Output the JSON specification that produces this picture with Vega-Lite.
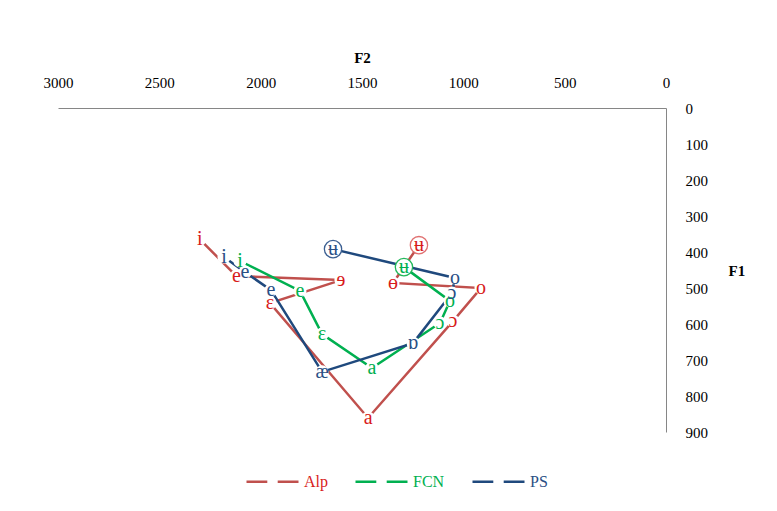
{
  "$schema": "https://vega.github.io/schema/vega-lite/v6.json",
  "autosize": {"type": "none"},
  "width": 608,
  "height": 324,
  "padding": {"left": 58, "top": 108, "right": 111, "bottom": 79},
  "background": "white",
  "config": {"view": {"stroke": null}},
  "data": {
    "values": [
      {"s": "Alp", "v": "i", "f2": 2300, "f1": 365, "ord": 1},
      {"s": "Alp", "v": "e", "f2": 2120, "f1": 467, "ord": 2},
      {"s": "Alp", "v": "ɘ", "f2": 1604, "f1": 478, "ord": 3},
      {"s": "Alp", "v": "ɛ", "f2": 1954, "f1": 542, "ord": 4},
      {"s": "Alp", "v": "a", "f2": 1470, "f1": 861, "ord": 5},
      {"s": "Alp", "v": "ɔ", "f2": 1051, "f1": 592, "ord": 6},
      {"s": "Alp", "v": "o", "f2": 913, "f1": 500, "ord": 7},
      {"s": "Alp", "v": "ɵ", "f2": 1347, "f1": 486, "ord": 8},
      {"s": "Alp", "v": "ʉ", "f2": 1219, "f1": 381, "ord": 9},
      {"s": "FCN", "v": "i", "f2": 2102, "f1": 425, "ord": 1},
      {"s": "FCN", "v": "e", "f2": 1806, "f1": 508, "ord": 2},
      {"s": "FCN", "v": "ɛ", "f2": 1697, "f1": 628, "ord": 3},
      {"s": "FCN", "v": "a", "f2": 1451, "f1": 722, "ord": 4},
      {"s": "FCN", "v": "ɔ", "f2": 1115, "f1": 597, "ord": 5},
      {"s": "FCN", "v": "o", "f2": 1066, "f1": 536, "ord": 6},
      {"s": "FCN", "v": "ʉ", "f2": 1293, "f1": 442, "ord": 7},
      {"s": "PS", "v": "i", "f2": 2181, "f1": 414, "ord": 1},
      {"s": "PS", "v": "e", "f2": 2077, "f1": 456, "ord": 2},
      {"s": "PS", "v": "e", "f2": 1949, "f1": 506, "ord": 3},
      {"s": "PS", "v": "æ", "f2": 1697, "f1": 733, "ord": 4},
      {"s": "PS", "v": "ɒ", "f2": 1248, "f1": 653, "ord": 5},
      {"s": "PS", "v": "ɔ", "f2": 1056, "f1": 514, "ord": 6},
      {"s": "PS", "v": "o", "f2": 1041, "f1": 472, "ord": 7},
      {"s": "PS", "v": "ʉ", "f2": 1643, "f1": 392, "ord": 8}
    ]
  },
  "encoding": {
    "x": {
      "field": "f2", "type": "quantitative",
      "scale": {"domain": [0, 3000], "reverse": true, "nice": false},
      "axis": {
        "orient": "top", "values": [0, 500, 1000, 1500, 2000, 2500, 3000], "format": "d",
        "grid": false, "ticks": false, "domainColor": "#868686", "domainWidth": 1,
        "labelFont": "Liberation Serif", "labelFontSize": 15, "labelColor": "#000000",
        "labelPadding": 18, "labelFlush": false, "labelOverlap": false,
        "title": "F2", "titleFont": "Liberation Serif", "titleFontSize": 15,
        "titleFontWeight": "bold", "titleColor": "#000000", "titlePadding": 10
      }
    },
    "y": {
      "field": "f1", "type": "quantitative",
      "scale": {"domain": [0, 900], "reverse": true, "nice": false},
      "axis": {
        "orient": "right", "values": [0, 100, 200, 300, 400, 500, 600, 700, 800, 900], "format": "d",
        "grid": false, "ticks": false, "domainColor": "#868686", "domainWidth": 1,
        "labelFont": "Liberation Serif", "labelFontSize": 15, "labelColor": "#000000",
        "labelPadding": 19, "labelFlush": false, "labelOverlap": false, "labelBaseline": "middle",
        "title": "F1", "titleFont": "Liberation Serif", "titleFontSize": 15,
        "titleFontWeight": "bold", "titleColor": "#000000", "titleAngle": 0,
        "titleAlign": "left", "titleBaseline": "middle", "titleX": 62, "titleY": 162
      }
    }
  },
  "layer": [
    {
      "mark": {"type": "line", "strokeWidth": 2.5},
      "encoding": {
        "color": {
          "field": "s", "type": "nominal",
          "scale": {"domain": ["Alp", "FCN", "PS"], "range": ["#C0504D", "#00B050", "#1F497D"]},
          "legend": {
            "title": null, "orient": "none", "direction": "horizontal",
            "legendX": 187, "legendY": 346,
            "symbolType": "M-1,0H-0.2M0.2,0H1", "symbolSize": 2704, "symbolStrokeWidth": 2.5,
            "labelFont": "Liberation Serif", "labelFontSize": 16, "labelOffset": 4,
            "columnPadding": 22,
            "encode": {"labels": {"update": {"fill": {"scale": "fill", "field": "value"}}}}
          }
        },
        "detail": {"field": "s"},
        "order": {"field": "ord", "type": "quantitative"}
      }
    },
    {
      "mark": {"type": "point", "filled": true, "shape": "circle", "size": 170, "fill": "white", "opacity": 1, "strokeWidth": 0},
      "encoding": {}
    },
    {
      "transform": [{"filter": "datum.v === 'ʉ'"}],
      "mark": {"type": "point", "shape": "circle", "size": 300, "fill": "white", "fillOpacity": 1, "opacity": 1, "strokeWidth": 1.3},
      "encoding": {
        "stroke": {
          "field": "s", "type": "nominal",
          "scale": {"domain": ["Alp", "FCN", "PS"], "range": ["#E07070", "#22B85A", "#3B5F92"]},
          "legend": null
        }
      }
    },
    {
      "mark": {"type": "text", "font": "Liberation Serif", "fontSize": 20, "baseline": "middle", "align": "center"},
      "encoding": {
        "text": {"field": "v"},
        "fill": {
          "field": "s", "type": "nominal",
          "scale": {"domain": ["Alp", "FCN", "PS"], "range": ["#D81B1B", "#00B050", "#2A4F85"]},
          "legend": null
        }
      }
    }
  ]
}
